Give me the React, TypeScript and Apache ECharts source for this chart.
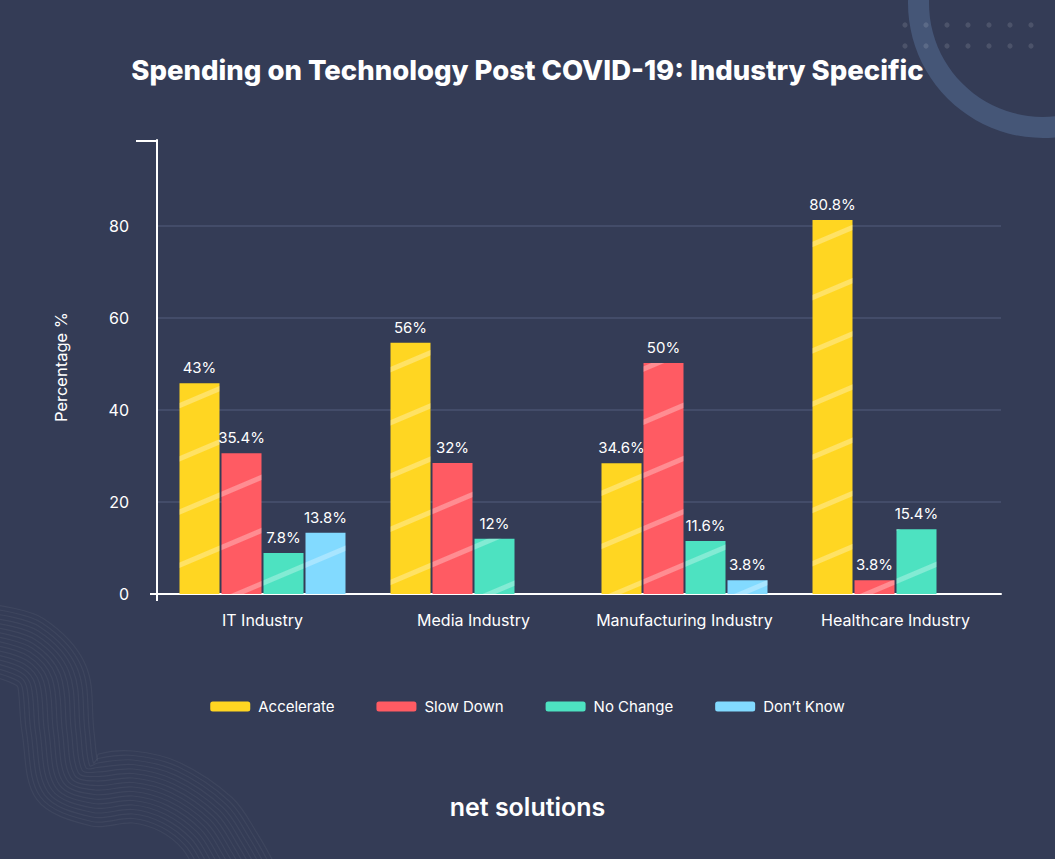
import React, { useEffect, useRef } from "react";
import * as echarts from "echarts";

const TITLE = "Spending on Technology Post COVID-19: Industry Specific";
const categories = ["IT Industry", "Media Industry", "Manufacturing Industry", "Healthcare Industry"];
const seriesNames = ["Accelerate", "Slow Down", "No Change", "Don’t Know"];
// bar heights as drawn in the picture
const accelerate = [45.8, 54.6, 28.4, 81.3];
const slowDown = [30.6, 28.5, 50.2, 3.0];
const noChange = [8.9, 12.0, 11.5, 14.1];
const dontKnow: (number | null)[] = [13.3, null, 3.0, null];
// printed labels
const accelerateLabels = ["43%", "56%", "34.6%", "80.8%"];
const slowDownLabels = ["35.4%", "32%", "50%", "3.8%"];
const noChangeLabels = ["7.8%", "12%", "11.6%", "15.4%"];
const dontKnowLabels = ["13.8%", "", "3.8%", ""];
const yTicks = [0, 20, 40, 60, 80];

const FONT = "Inter, 'Noto Sans', sans-serif";
const colors = ["#FFD622", "#FF5B63", "#4DE2C1", "#82DAFF"];

function wavyLines() {
  const P = [
    [-5, 641], [30, 652], [52, 678], [58, 732], [67, 780], [95, 790],
    [133, 787], [170, 797], [207, 823], [227, 853], [245, 885],
  ];
  const N = [
    [0, -1], [0.37, -0.93], [0.93, -0.37], [1, 0], [0.84, -0.54], [0.1, -1],
    [0, -1], [0.26, -0.96], [0.7, -0.7], [0.86, -0.51], [0.86, -0.51],
  ];
  const out: any[] = [];
  for (let i = 0; i < 17; i++) {
    const o = -36 + i * 4.5;
    const pts = P.map((p, k) => [p[0] + o * N[k][0], p[1] + o * N[k][1]]);
    out.push({
      type: "polyline",
      silent: true,
      z: -10,
      shape: { points: pts, smooth: 0.35 },
      style: { stroke: "rgba(255,255,255,0.05)", lineWidth: 1.2, fill: null },
    });
  }
  return out;
}

function dots() {
  const out: any[] = [];
  for (let r = 0; r < 2; r++) {
    for (let c = 0; c < 7; c++) {
      out.push({
        type: "circle",
        silent: true,
        z: -5,
        shape: { cx: 905 + c * 21, cy: 25 + r * 21, r: 2.6 },
        style: { fill: "rgba(255,255,255,0.12)" },
      });
    }
  }
  return out;
}

export default function App() {
  const ref = useRef<HTMLDivElement>(null);
  useEffect(() => {
    document.body.style.margin = "0";
    const chart = echarts.init(ref.current!, null, { renderer: "svg" });
    const decal = {
      symbol: "rect",
      symbolSize: 1,
      color: "rgba(255,255,255,0.3)",
      dashArrayX: [1, 0],
      dashArrayY: [4.5, 44],
      rotation: -0.4,
    };
    const mk = (name: string, data: any[], labels: string[], idx: number) => ({
      name,
      type: "bar",
      data,
      barWidth: 40,
      barGap: "5%",
      itemStyle: { color: colors[idx], decal },
      label: {
        show: true,
        position: "top",
        distance: 8,
        color: "#ffffff",
        fontSize: 15,
        fontFamily: FONT,
        formatter: (p: any) => labels[p.dataIndex] || "",
      },
    });
    const option: any = {
      animation: false,
      backgroundColor: "#343c56",
      textStyle: { fontFamily: FONT },
      title: {
        text: TITLE,
        left: "center",
        top: 51,
        textStyle: { color: "#ffffff", fontSize: 27.5, fontWeight: 800, fontFamily: FONT },
      },
      legend: {
        data: seriesNames,
        left: "center",
        top: 694,
        itemWidth: 40,
        itemHeight: 10,
        itemGap: 42,
        icon: "roundRect",
        itemStyle: { decal: "none" },
        textStyle: { color: "#ffffff", fontSize: 15, fontFamily: FONT, padding: [0, 0, 0, 3] },
      },
      grid: { left: 157, right: 54, top: 140, bottom: 265 },
      xAxis: {
        type: "category",
        data: categories,
        axisLine: { lineStyle: { color: "#ffffff", width: 2 } },
        axisTick: { show: false },
        axisLabel: { color: "#ffffff", fontSize: 16, margin: 18, interval: 0, fontFamily: FONT },
      },
      yAxis: {
        type: "value",
        min: yTicks[0],
        max: 98.7,
        interval: 20,
        name: "Percentage %",
        nameLocation: "middle",
        nameGap: 88,
        nameTextStyle: { color: "#ffffff", fontSize: 16.5, fontFamily: FONT },
        axisLine: { show: true, lineStyle: { color: "#ffffff", width: 2 } },
        axisTick: { show: false },
        axisLabel: { color: "#ffffff", fontSize: 16, margin: 28, showMaxLabel: false, fontFamily: FONT },
        splitLine: {
          lineStyle: {
            color: ["#434c69", "#434c69", "#434c69", "#434c69", "#434c69", "rgba(0,0,0,0)"],
            width: 2,
          },
        },
      },
      graphic: [
        {
          type: "ring",
          silent: true,
          z: -8,
          shape: { cx: 1043, cy: 3, r: 135, r0: 114 },
          style: { fill: "#455677" },
        },
        ...dots(),
        ...wavyLines(),
        { type: "line", shape: { x1: 136, y1: 141, x2: 158, y2: 141 }, style: { stroke: "#ffffff", lineWidth: 2 } },
        { type: "line", shape: { x1: 150, y1: 594, x2: 158, y2: 594 }, style: { stroke: "#ffffff", lineWidth: 2 } },
        { type: "line", shape: { x1: 157, y1: 593, x2: 157, y2: 601 }, style: { stroke: "#ffffff", lineWidth: 2 } },
        {
          type: "text",
          left: "center",
          top: 794,
          style: {
            text: "net solutions",
            fill: "#ffffff",
            fontSize: 25,
            fontWeight: 600,
            fontFamily: FONT,
          },
        },
      ],
      series: [
        mk(seriesNames[0], accelerate, accelerateLabels, 0),
        mk(seriesNames[1], slowDown, slowDownLabels, 1),
        mk(seriesNames[2], noChange, noChangeLabels, 2),
        mk(seriesNames[3], dontKnow, dontKnowLabels, 3),
      ],
    };
    chart.setOption(option);
    return () => chart.dispose();
  }, []);
  return (
    <div
      ref={ref}
      style={{ position: "fixed", left: 0, top: 0, width: 1055, height: 859 }}
    />
  );
}
